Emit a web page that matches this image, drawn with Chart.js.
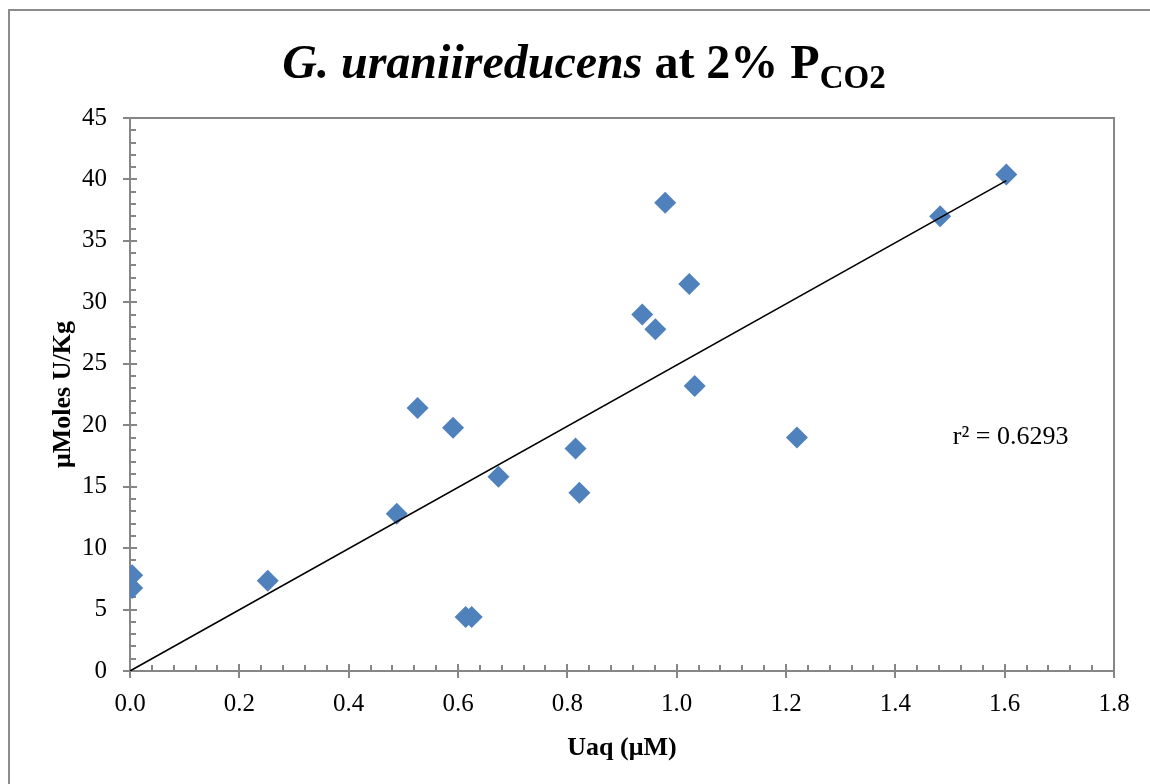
<!DOCTYPE html>
<html><head><meta charset="utf-8">
<script src="https://cdn.jsdelivr.net/npm/chart.js@4"></script>
<style>html,body{margin:0;padding:0;background:#fff}#wrap{width:1150px;height:784px;position:relative}</style>
</head><body><div id="wrap"><canvas id="c" width="1150" height="784"></canvas></div>
<script>
// ---- data ----
const uaq = [0.004, 0.004, 0.252, 0.488, 0.526, 0.591, 0.614, 0.625, 0.674, 0.815, 0.822, 0.937, 0.961, 0.979, 1.023, 1.033, 1.220, 1.482, 1.603];
const umolesPerKg = [7.8, 6.75, 7.35, 12.8, 21.4, 19.8, 4.4, 4.4, 15.8, 18.1, 14.5, 29.0, 27.8, 38.1, 31.5, 23.2, 19.0, 37.0, 40.4];
const trendX = [0, 1.603];
const trendY = [0, 39.9];
const xTickValues = [0, 0.2, 0.4, 0.6, 0.8, 1.0, 1.2, 1.4, 1.6, 1.8];
const yTickValues = [0, 5, 10, 15, 20, 25, 30, 35, 40, 45];
const r2Text = 'r\u00B2 = 0.6293';
const r2Pos = {x: 1.611, y: 19.0};
const titleMain = 'G. uraniireducens';
const titleRest = ' at 2% P';
const titleSub = 'CO2';
const xTitle = 'Uaq (\u03BCM)';
const yTitle = '\u03BCMoles U/Kg';

const AXIS = '#868686';
const SERIF = '"Liberation Serif", "Times New Roman", serif';

const decor = {
  id: 'decor',
  beforeDraw(chart) {
    const ctx = chart.ctx;
    ctx.save();
    ctx.fillStyle = '#fff';
    ctx.fillRect(0, 0, chart.width, chart.height);
    ctx.strokeStyle = '#8c8c8c';
    ctx.lineWidth = 2;
    ctx.beginPath();
    ctx.moveTo(9, chart.height);
    ctx.lineTo(9, 10);
    ctx.lineTo(chart.width, 10);
    ctx.stroke();
    ctx.restore();
  },
  beforeDatasetsDraw(chart) {
    const ctx = chart.ctx, a = chart.chartArea;
    const xs = chart.scales.x, ys = chart.scales.y;
    ctx.save();
    ctx.strokeStyle = AXIS;
    ctx.lineWidth = 2;
    ctx.strokeRect(a.left, a.top, a.right - a.left, a.bottom - a.top);
    ctx.beginPath();
    for (let i = 0; i <= 45; i++) {
      const px = Math.round(xs.getPixelForValue(i * 0.04));
      if (i % 5 === 0) { ctx.moveTo(px, a.bottom - 7); ctx.lineTo(px, a.bottom + 7); }
      else { ctx.moveTo(px, a.bottom - 6); ctx.lineTo(px, a.bottom); }
    }
    for (let i = 0; i <= 45; i++) {
      const py = Math.round(ys.getPixelForValue(i));
      if (i % 5 === 0) { ctx.moveTo(a.left - 7, py); ctx.lineTo(a.left + 7, py); }
      else { ctx.moveTo(a.left, py); ctx.lineTo(a.left + 6, py); }
    }
    ctx.stroke();
    ctx.restore();
  },
  afterDraw(chart) {
    const ctx = chart.ctx;
    const xs = chart.scales.x, ys = chart.scales.y;
    ctx.save();
    ctx.fillStyle = '#000';
    ctx.textBaseline = 'alphabetic';
    const f1 = 'italic bold 48px ' + SERIF;
    const f2 = 'bold 48px ' + SERIF;
    const f3 = 'bold 33px ' + SERIF;
    ctx.font = f1; const w1 = ctx.measureText(titleMain).width;
    ctx.font = f2; const w2 = ctx.measureText(titleRest).width;
    ctx.font = f3; const w3 = ctx.measureText(titleSub).width;
    let x = 584 - (w1 + w2 + w3) / 2;
    const base = 78;
    ctx.textAlign = 'left';
    ctx.font = f1; ctx.fillText(titleMain, x, base); x += w1;
    ctx.font = f2; ctx.fillText(titleRest, x, base); x += w2;
    ctx.font = f3; ctx.fillText(titleSub, x, base + 10);
    // r^2 label
    ctx.font = '26px ' + SERIF;
    ctx.textAlign = 'center';
    ctx.textBaseline = 'middle';
    ctx.fillText(r2Text, xs.getPixelForValue(r2Pos.x), ys.getPixelForValue(r2Pos.y));
    ctx.restore();
  }
};

const points = uaq.map((v, i) => ({x: v, y: umolesPerKg[i]}));
const trend = trendX.map((v, i) => ({x: v, y: trendY[i]}));

new Chart(document.getElementById('c'), {
  type: 'scatter',
  data: {
    datasets: [
      {type: 'line', data: trend, borderColor: '#000', borderWidth: 1.6, pointRadius: 0, fill: false, order: 0},
      {type: 'scatter', data: points, backgroundColor: '#4F81BD', borderWidth: 0, pointStyle: 'rectRot', pointRadius: 11, order: 1}
    ]
  },
  options: {
    responsive: false,
    animation: false,
    layout: {padding: {top: 118, right: 36, bottom: 0, left: 0}},
    plugins: {legend: {display: false}, tooltip: {enabled: false}, title: {display: false}},
    scales: {
      x: {
        type: 'linear', min: 0, max: 1.8,
        afterBuildTicks(s) { s.ticks = xTickValues.map(v => ({value: v})); },
        ticks: {callback: v => Number(v).toFixed(1), color: '#000', font: {family: SERIF, size: 25}, padding: 18, maxRotation: 0, autoSkip: false},
        grid: {display: false, drawTicks: false, tickLength: 0},
        border: {display: false},
        title: {display: true, text: xTitle, color: '#000', font: {family: SERIF, size: 26, weight: 'bold'}, padding: {top: 0, bottom: 20}},
        afterFit(s) { s.height = 113; }
      },
      y: {
        type: 'linear', min: 0, max: 45,
        afterBuildTicks(s) { s.ticks = yTickValues.map(v => ({value: v})); },
        ticks: {color: '#000', font: {family: SERIF, size: 25}, padding: 23, autoSkip: false},
        grid: {display: false, drawTicks: false, tickLength: 0},
        border: {display: false},
        title: {display: true, text: yTitle, color: '#000', font: {family: SERIF, size: 26, weight: 'bold'}, padding: {top: 48, bottom: 0}},
        afterFit(s) { s.width = 130; }
      }
    }
  },
  plugins: [decor]
});
</script>
</body></html>
